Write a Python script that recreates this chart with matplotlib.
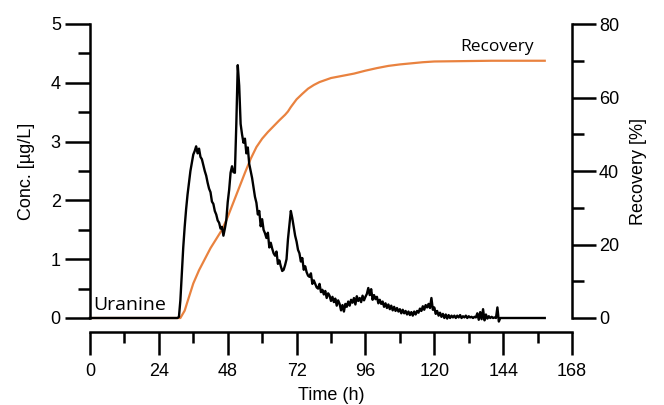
import numpy as np
import matplotlib
matplotlib.use("Agg")
import matplotlib.pyplot as plt
from matplotlib.ticker import MultipleLocator

# ---------------- data ----------------
# concentration (ug/L) sampled every 0.5 h from 30 h to 143 h, read from the picture
conc_t_start = 30.0
conc_t_step = 0.5
conc_values = [
    0.00, 0.00, 0.02, 0.30, 0.75, 1.20, 1.55, 1.85, 2.10, 2.30,   # 30-34.5
    2.50, 2.64, 2.78, 2.84, 2.92, 2.80, 2.88, 2.74, 2.70, 2.60,   # 35-39.5
    2.50, 2.42, 2.30, 2.20, 2.14, 1.98, 1.94, 1.82, 1.76, 1.66,   # 40-44.5
    1.62, 1.52, 1.55, 1.40, 1.52, 1.66, 1.97, 2.18, 2.47, 2.58,   # 45-49.5
    2.48, 2.47, 3.30, 4.30, 3.95, 3.30, 3.12, 2.98, 3.05, 2.80,   # 50-54.5
    2.90, 2.62, 2.50, 2.38, 2.22, 2.06, 1.96, 1.76, 1.82, 1.56,   # 55-59.5
    1.68, 1.50, 1.44, 1.36, 1.45, 1.20, 1.28, 1.18, 1.10, 1.06,   # 60-64.5
    1.13, 0.92, 0.98, 0.88, 0.80, 0.82, 0.90, 1.00, 1.34, 1.58,   # 65-69.5
    1.82, 1.70, 1.55, 1.40, 1.30, 1.16, 1.10, 0.96, 1.02, 0.82,   # 70-74.5
    0.88, 0.78, 0.72, 0.70, 0.76, 0.58, 0.64, 0.58, 0.52, 0.50,   # 75-79.5
    0.58, 0.44, 0.48, 0.40, 0.46, 0.34, 0.42, 0.38, 0.29, 0.36,   # 80-84.5
    0.27, 0.33, 0.21, 0.30, 0.24, 0.13, 0.22, 0.11, 0.24, 0.19,   # 85-89.5
    0.28, 0.21, 0.31, 0.26, 0.34, 0.23, 0.37, 0.29, 0.34, 0.27,   # 90-94.5
    0.38, 0.30, 0.36, 0.41, 0.51, 0.39, 0.49, 0.31, 0.39, 0.32,   # 95-99.5
    0.36, 0.25, 0.31, 0.24, 0.28, 0.19, 0.25, 0.17, 0.23, 0.15,   # 100-104.5
    0.21, 0.13, 0.19, 0.12, 0.17, 0.11, 0.15, 0.08, 0.14, 0.08,   # 105-109.5
    0.12, 0.06, 0.11, 0.05, 0.10, 0.04, 0.11, 0.06, 0.12, 0.09,   # 110-114.5
    0.16, 0.12, 0.20, 0.14, 0.22, 0.18, 0.24, 0.17, 0.34, 0.14,   # 115-119.5
    0.18, 0.07, 0.12, 0.04, 0.09, 0.02, 0.07, 0.00, 0.06, -0.01,  # 120-124.5
    0.05, 0.00, 0.04, 0.01, 0.04, 0.00, 0.04, 0.01, 0.05, 0.00,   # 125-129.5
    0.03, 0.01, 0.04, 0.00, 0.03, 0.01, 0.02, 0.00, 0.02, 0.01,   # 130-134.5
    0.08, -0.03, 0.10, -0.02, 0.15, -0.04, 0.06, -0.01, 0.03, 0.00,  # 135-139.5
    0.02, 0.00, 0.01, 0.00, 0.18, -0.06, 0.00,                    # 140-143
]
conc_t_begin = 0.0
conc_t_end = 158.5

rec_time = [0, 31.5, 33, 34, 36, 38, 40, 42, 44, 46, 48, 50, 52, 54, 56, 58,
            60, 62, 64, 66, 68, 69, 70, 72, 74, 76, 78, 80, 84, 88, 92, 96,
            100, 104, 108, 112, 116, 120, 130, 140, 158.5]
rec_values = [0, 0, 2, 4.5, 9.4, 13, 16, 19, 21.5, 24, 27.5, 31.5, 35.5, 39.5, 43.3, 46.5,
              48.8, 50.6, 52.2, 53.8, 55.3, 56.2, 57.4, 59.5, 61, 62.4, 63.4, 64.2, 65.3, 65.9, 66.5, 67.3,
              68, 68.6, 69.0, 69.3, 69.6, 69.8, 69.9, 70, 70]

x_ticks = [0, 24, 48, 72, 96, 120, 144, 168]
y_ticks = [0, 1, 2, 3, 4, 5]
r_ticks = [0, 20, 40, 60, 80]

# ---------------- plot ----------------
conc_time = [conc_t_begin] + list(conc_t_start + conc_t_step * np.arange(len(conc_values))) + [conc_t_end]
conc_all = [0.0] + conc_values + [0.0]

plt.rcParams['font.family'] = ['Liberation Sans', 'DejaVu Sans']
W, H = 664, 405
fig = plt.figure(figsize=(W / 100, H / 100), dpi=100)
x0, x1 = 90, 572
y0, y1 = 318, 24
ax = fig.add_axes([x0 / W, (H - y0) / H, (x1 - x0) / W, (y0 - y1) / H])
ax.patch.set_alpha(0)
ax2 = ax.twinx()
ax2.patch.set_alpha(0)

orange = '#E9823F'
ax2.plot(rec_time, rec_values, color=orange, lw=1.6, zorder=2, clip_on=False)
ax.plot(conc_time, conc_all, color='black', lw=1.7, zorder=3, clip_on=False)
ax.set_zorder(ax2.get_zorder() + 1)

ax.set_xlim(0, 168)
ax.set_ylim(0, 5)
ax2.set_ylim(0, 80)

lw_sp = 1.8
for s in ['top', 'right']:
    ax.spines[s].set_visible(False)
for s in ['top', 'left', 'bottom']:
    ax2.spines[s].set_visible(False)
ax.spines['left'].set_linewidth(lw_sp)
ax.spines['bottom'].set_linewidth(lw_sp)
ax.spines['bottom'].set_position(('outward', 10.1))
ax2.spines['right'].set_linewidth(lw_sp)

ax.set_xticks(x_ticks)
ax.xaxis.set_minor_locator(MultipleLocator(12))
ax.set_yticks(y_ticks)
ax.yaxis.set_minor_locator(MultipleLocator(0.5))
ax2.set_yticks(r_ticks)
ax2.yaxis.set_minor_locator(MultipleLocator(10))

ax.tick_params(axis='x', which='major', direction='out', length=16.5, width=lw_sp, labelsize=13, pad=6)
ax.tick_params(axis='x', which='minor', direction='out', length=8, width=lw_sp)
ax.tick_params(axis='y', which='major', direction='out', length=18, width=lw_sp, labelsize=13, pad=3)
ax.tick_params(axis='y', which='minor', direction='out', length=9, width=lw_sp)
ax2.tick_params(axis='y', which='major', direction='out', length=17.5, width=lw_sp, labelsize=13, pad=2)
ax2.tick_params(axis='y', which='minor', direction='out', length=8.5, width=lw_sp)

ax.set_xlabel('Time (h)', fontsize=13, labelpad=5)
ax.set_ylabel('Conc. [µg/L]', fontsize=13, labelpad=11)
ax2.set_ylabel('Recovery [%]', fontsize=13, labelpad=8)

ax.text(1.2, 0.22, 'Uranine', fontsize=14, family=['Open Sans', 'DejaVu Sans'], va='center', ha='left')
ax.text(142, 4.61, 'Recovery', fontsize=12.5, family=['Open Sans', 'DejaVu Sans'], va='center', ha='center')

fig.savefig('out.png', dpi=100)
